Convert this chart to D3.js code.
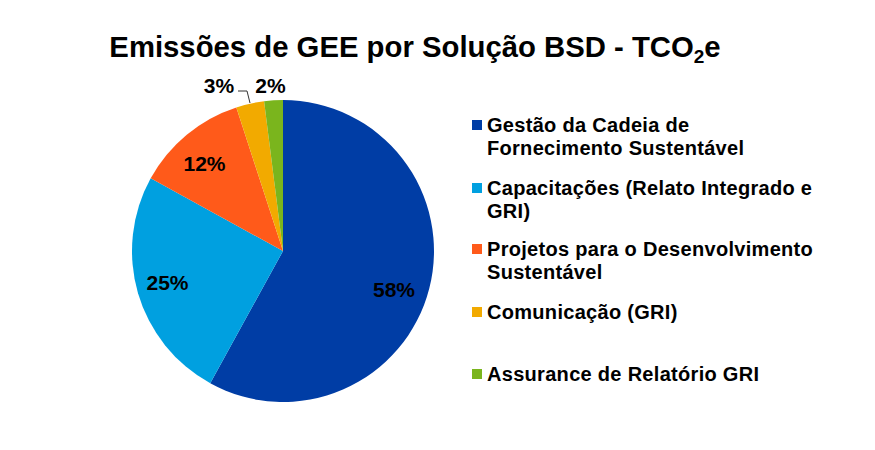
<!DOCTYPE html>
<html><head><meta charset="utf-8">
<script src="https://cdnjs.cloudflare.com/ajax/libs/d3/7.8.5/d3.min.js"></script>
<style>body{margin:0;background:#fff}svg{display:block;font-family:"Liberation Sans",Arial,sans-serif;font-weight:bold}</style>
</head><body><svg id="c" width="875" height="450"></svg>
<script>
const categories = ["Gestão da Cadeia de|Fornecimento Sustentável","Capacitações (Relato Integrado e|GRI)","Projetos para o Desenvolvimento|Sustentável","Comunicação (GRI)","Assurance de Relatório GRI"];
const values = [58, 25, 12, 3, 2];
const labels = ["58%","25%","12%","3%","2%"];
const colors = ["#003DA5","#00A0E0","#FF5A1A","#F2AA00","#7AB51D"];

const svg = d3.select("#c");
const cx = 283, cy = 251, r = 151;

// title
const t = svg.append("text").attr("x", 415).attr("y", 57).attr("text-anchor","middle")
  .attr("font-size", 29.3).attr("fill","#000");
t.append("tspan").text("Emissões de GEE por Solução BSD - TCO");
t.append("tspan").attr("font-size", 19).attr("dy", 6).text("2");
t.append("tspan").attr("dy", -6).text("e");

const pie = d3.pie().sort(null).value(d => d)(values);
const arc = d3.arc().innerRadius(0).outerRadius(r);
const g = svg.append("g").attr("transform", `translate(${cx},${cy})`);
g.selectAll("path").data(pie).join("path").attr("d", arc).attr("fill", (d,i) => colors[i]);

// labels
const labelPos = [[394,297],[167.5,290],[204.5,171],[219,93],[270.5,93]];
svg.selectAll("text.lbl").data(labels).join("text").attr("class","lbl")
  .attr("x",(d,i)=>labelPos[i][0]).attr("y",(d,i)=>labelPos[i][1])
  .attr("text-anchor","middle").attr("font-size",21).attr("fill","#000").text(d=>d);

// leader line for 3%
svg.append("path").attr("d","M238,91 L247,91 L250,103").attr("fill","none").attr("stroke","#333").attr("stroke-width",1);

// legend
const legY = [125, 188, 249, 312, 374];
const lg = svg.append("g");
categories.forEach((c, i) => {
  lg.append("rect").attr("x", 472).attr("y", legY[i]-5).attr("width", 10).attr("height", 10).attr("fill", colors[i]);
  c.split("|").forEach((line, j) => {
    lg.append("text").attr("x", 487).attr("y", legY[i] + 7 + j*23).attr("font-size", 20)
      .attr("letter-spacing", 0.3).attr("fill","#000").text(line);
  });
});
</script></body></html>
